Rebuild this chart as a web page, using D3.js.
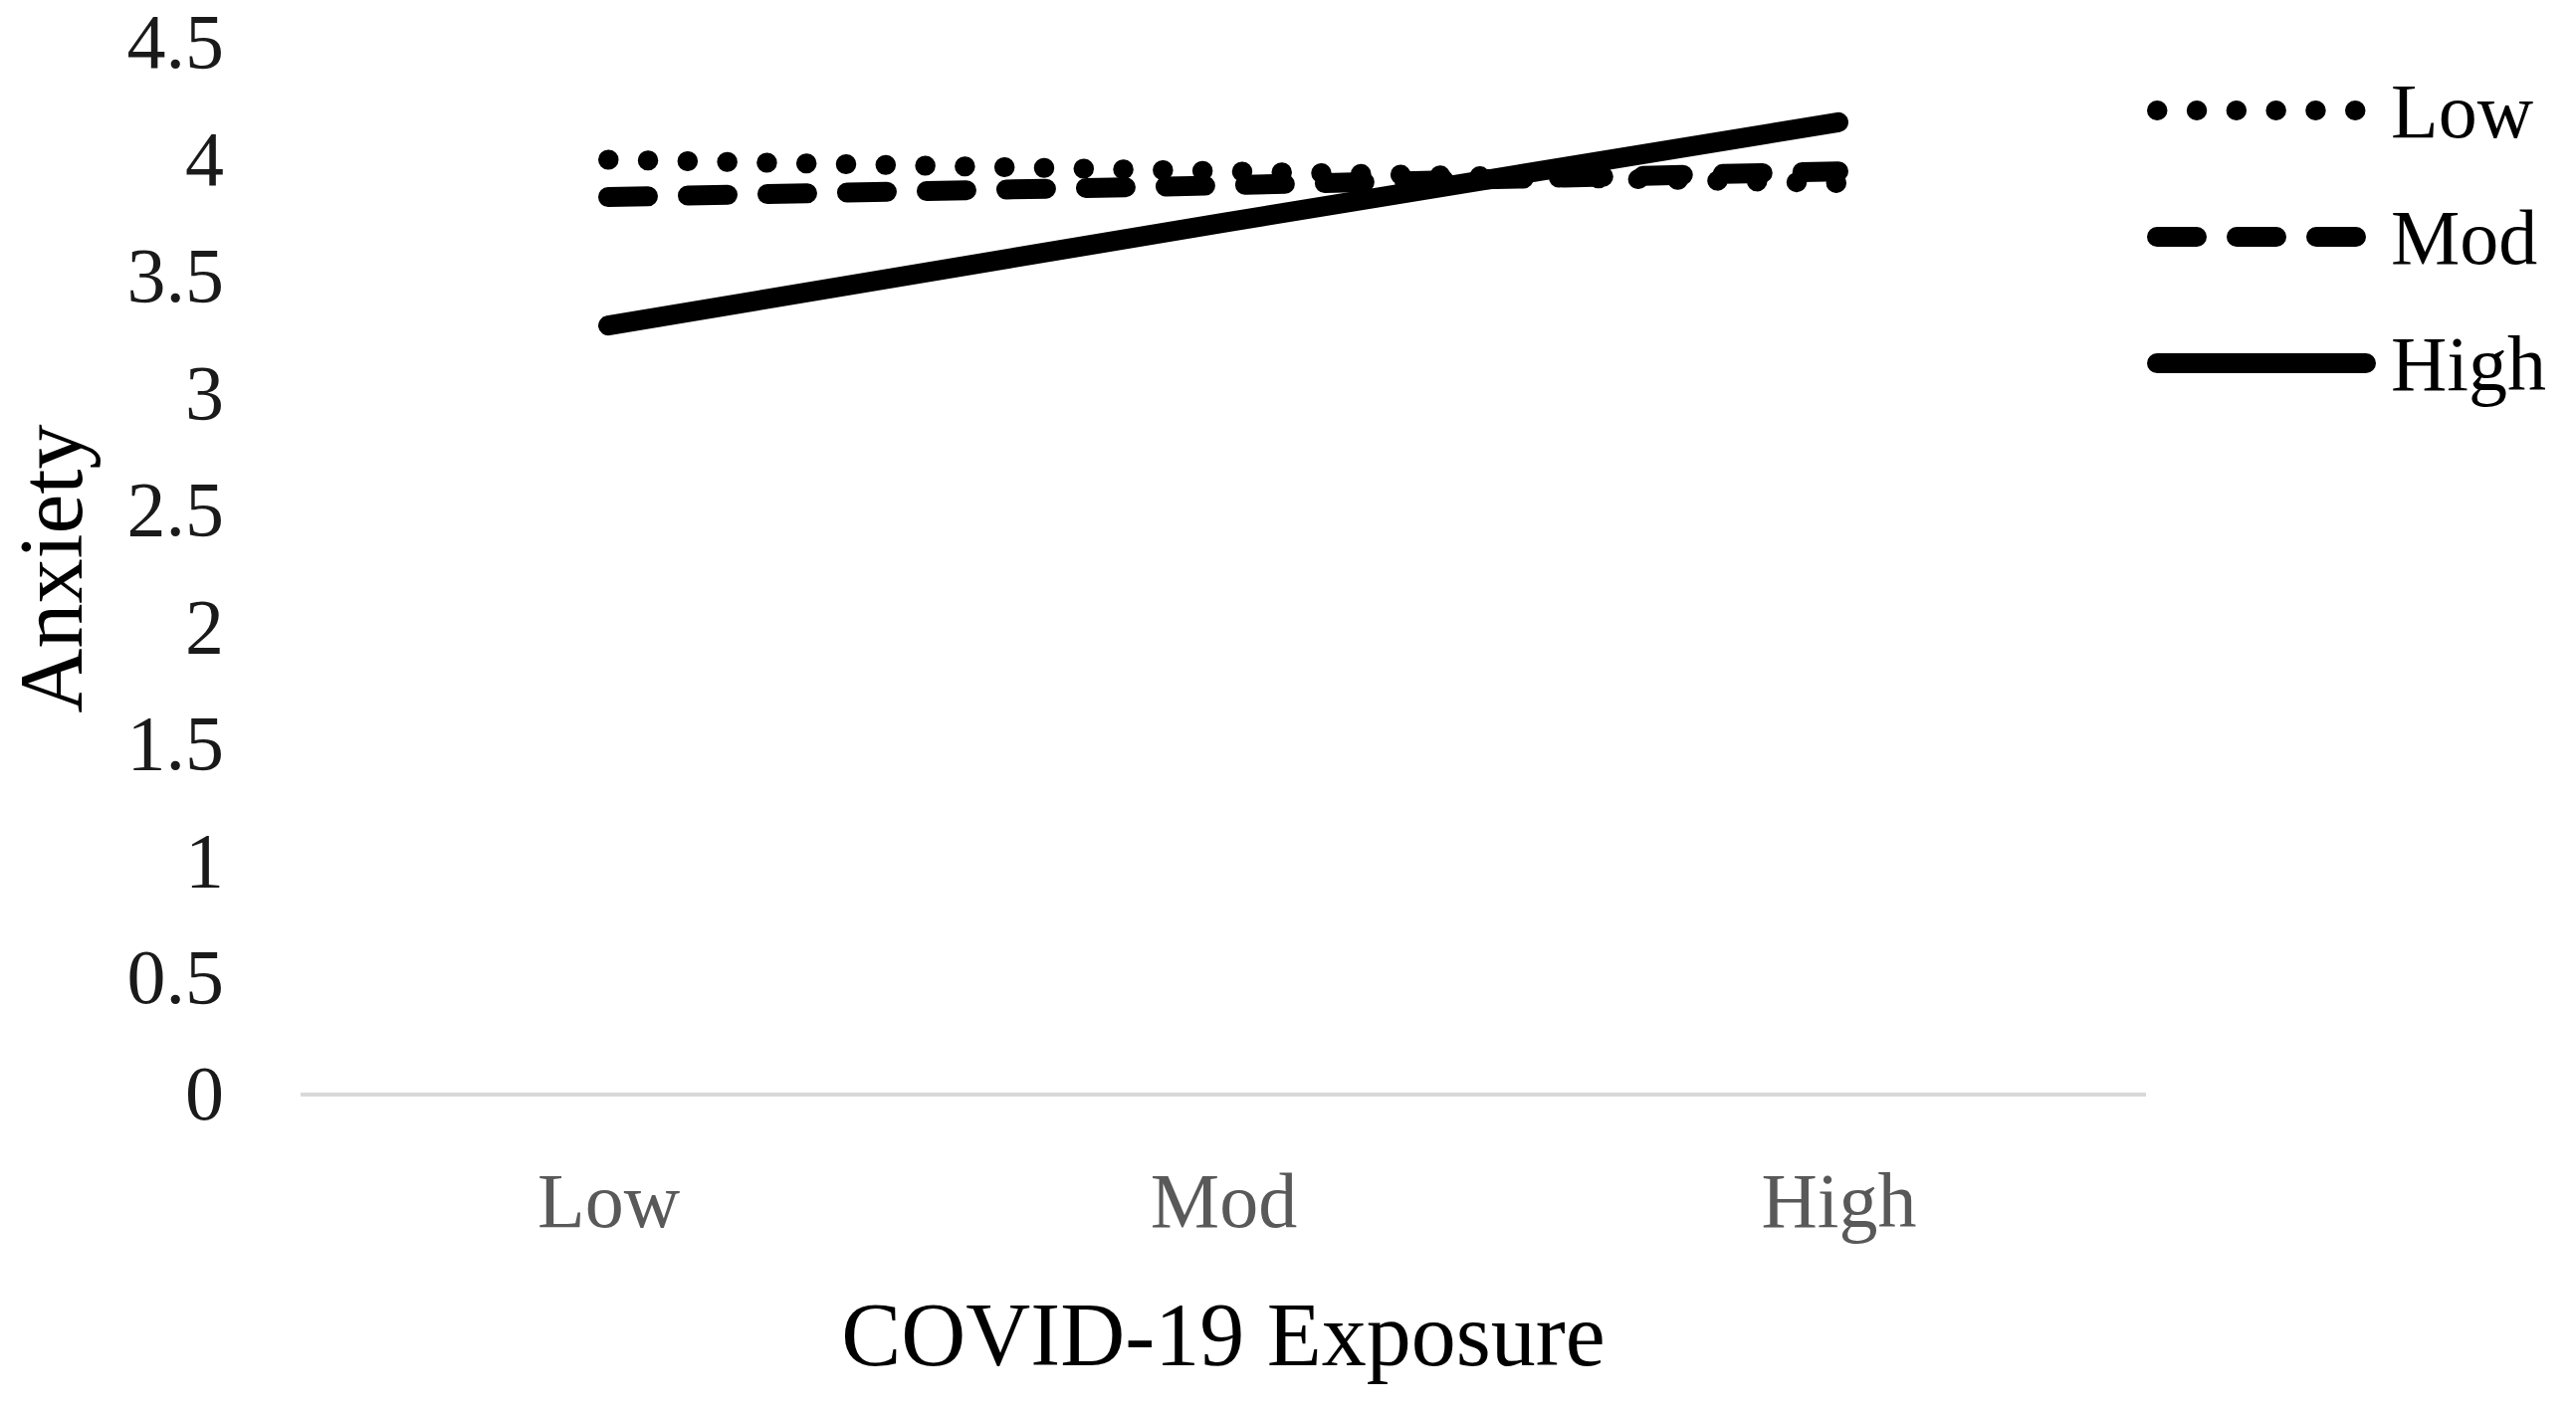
<!DOCTYPE html>
<html>
<head>
<meta charset="utf-8">
<script src="https://cdn.jsdelivr.net/npm/d3@7"></script>
<style>
  html, body { margin: 0; padding: 0; background: #fff; }
  text { font-family: "Liberation Serif", "DejaVu Serif", serif; }
</style>
</head>
<body>
<div id="CHART"></div>
<script>
// ------------------------- data ------------------------//

var exposure = ["Low", "Mod", "High"];
var groups = ["Low", "Mod", "High"];
var lowValues = [4.00, 3.95, 3.90];
var modValues = [3.84, 3.89, 3.95];
var highValues = [3.29, 3.73, 4.16];
var yTicks = [0, 0.5, 1, 1.5, 2, 2.5, 3, 3.5, 4, 4.5];

var series = [
  { name: groups[0], values: lowValues, dash: "0.5 39.3" },
  { name: groups[1], values: modValues, dash: "40 40" },
  { name: groups[2], values: highValues, dash: null }
];

// ------------------------- svg init ------------------------//

var width = 2588,
  height = 1419;

var svg = d3.select("#CHART").append("svg")
  .attr("width", width)
  .attr("height", height);

var x = d3.scalePoint()
  .domain(exposure)
  .range([302, 2156])
  .padding(0.5);

var y = d3.scaleLinear()
  .domain([0, 4.5])
  .range([1100, 43]);

// baseline gridline at 0
svg.append("line")
  .attr("x1", 302)
  .attr("x2", 2156)
  .attr("y1", y(0))
  .attr("y2", y(0))
  .attr("stroke", "#d9d9d9")
  .attr("stroke-width", 4);

// y axis
var yAxis = svg.append("g")
  .attr("transform", "translate(302,0)")
  .call(d3.axisLeft(y)
    .tickValues(yTicks)
    .tickSize(0)
    .tickPadding(77)
    .tickFormat(function (d) { return String(d); }));
yAxis.select(".domain").remove();
yAxis.selectAll("text")
  .attr("font-family", "Liberation Serif")
  .attr("font-size", 78)
  .attr("fill", "#1a1a1a");

// x axis
var xAxis = svg.append("g")
  .attr("transform", "translate(0," + y(0) + ")")
  .call(d3.axisBottom(x)
    .tickSize(0)
    .tickPadding(0));
xAxis.select(".domain").remove();
xAxis.selectAll("text")
  .attr("font-family", "Liberation Serif")
  .attr("font-size", 78)
  .attr("fill", "#595959")
  .attr("dy", null)
  .attr("y", 133);

// axis titles
svg.append("text")
  .attr("x", x("Mod"))
  .attr("y", 1372)
  .attr("text-anchor", "middle")
  .attr("font-size", 90)
  .attr("fill", "#000")
  .text("COVID-19 Exposure");

svg.append("text")
  .attr("transform", "translate(82," + ((y(0) + y(4.5)) / 2) + ") rotate(-90)")
  .attr("text-anchor", "middle")
  .attr("font-size", 90)
  .attr("fill", "#000")
  .text("Anxiety");

// ------------------------- lines ------------------------//

var line = d3.line()
  .x(function (d, i) { return x(exposure[i]); })
  .y(function (d) { return y(d); });

svg.selectAll(".series")
  .data(series)
  .enter()
  .append("path")
  .attr("class", "series")
  .attr("d", function (d) { return line(d.values); })
  .attr("fill", "none")
  .attr("stroke", "#000")
  .attr("stroke-width", 20)
  .attr("stroke-linecap", "round")
  .attr("stroke-linejoin", "round")
  .attr("stroke-dasharray", function (d) { return d.dash; });

// ------------------------- legend ------------------------//

var legend = svg.selectAll(".legend")
  .data(series)
  .enter()
  .append("g")
  .attr("class", "legend")
  .attr("transform", function (d, i) { return "translate(2167," + (111 + i * 127) + ")"; });

legend.append("line")
  .attr("x1", 0)
  .attr("x2", 210)
  .attr("stroke", "#000")
  .attr("stroke-width", 20)
  .attr("stroke-linecap", "round")
  .attr("stroke-dasharray", function (d) { return d.dash; });

legend.append("text")
  .attr("x", 235)
  .attr("dy", "0.35em")
  .attr("font-size", 78)
  .attr("fill", "#000")
  .text(function (d) { return d.name; });
</script>
</body>
</html>
